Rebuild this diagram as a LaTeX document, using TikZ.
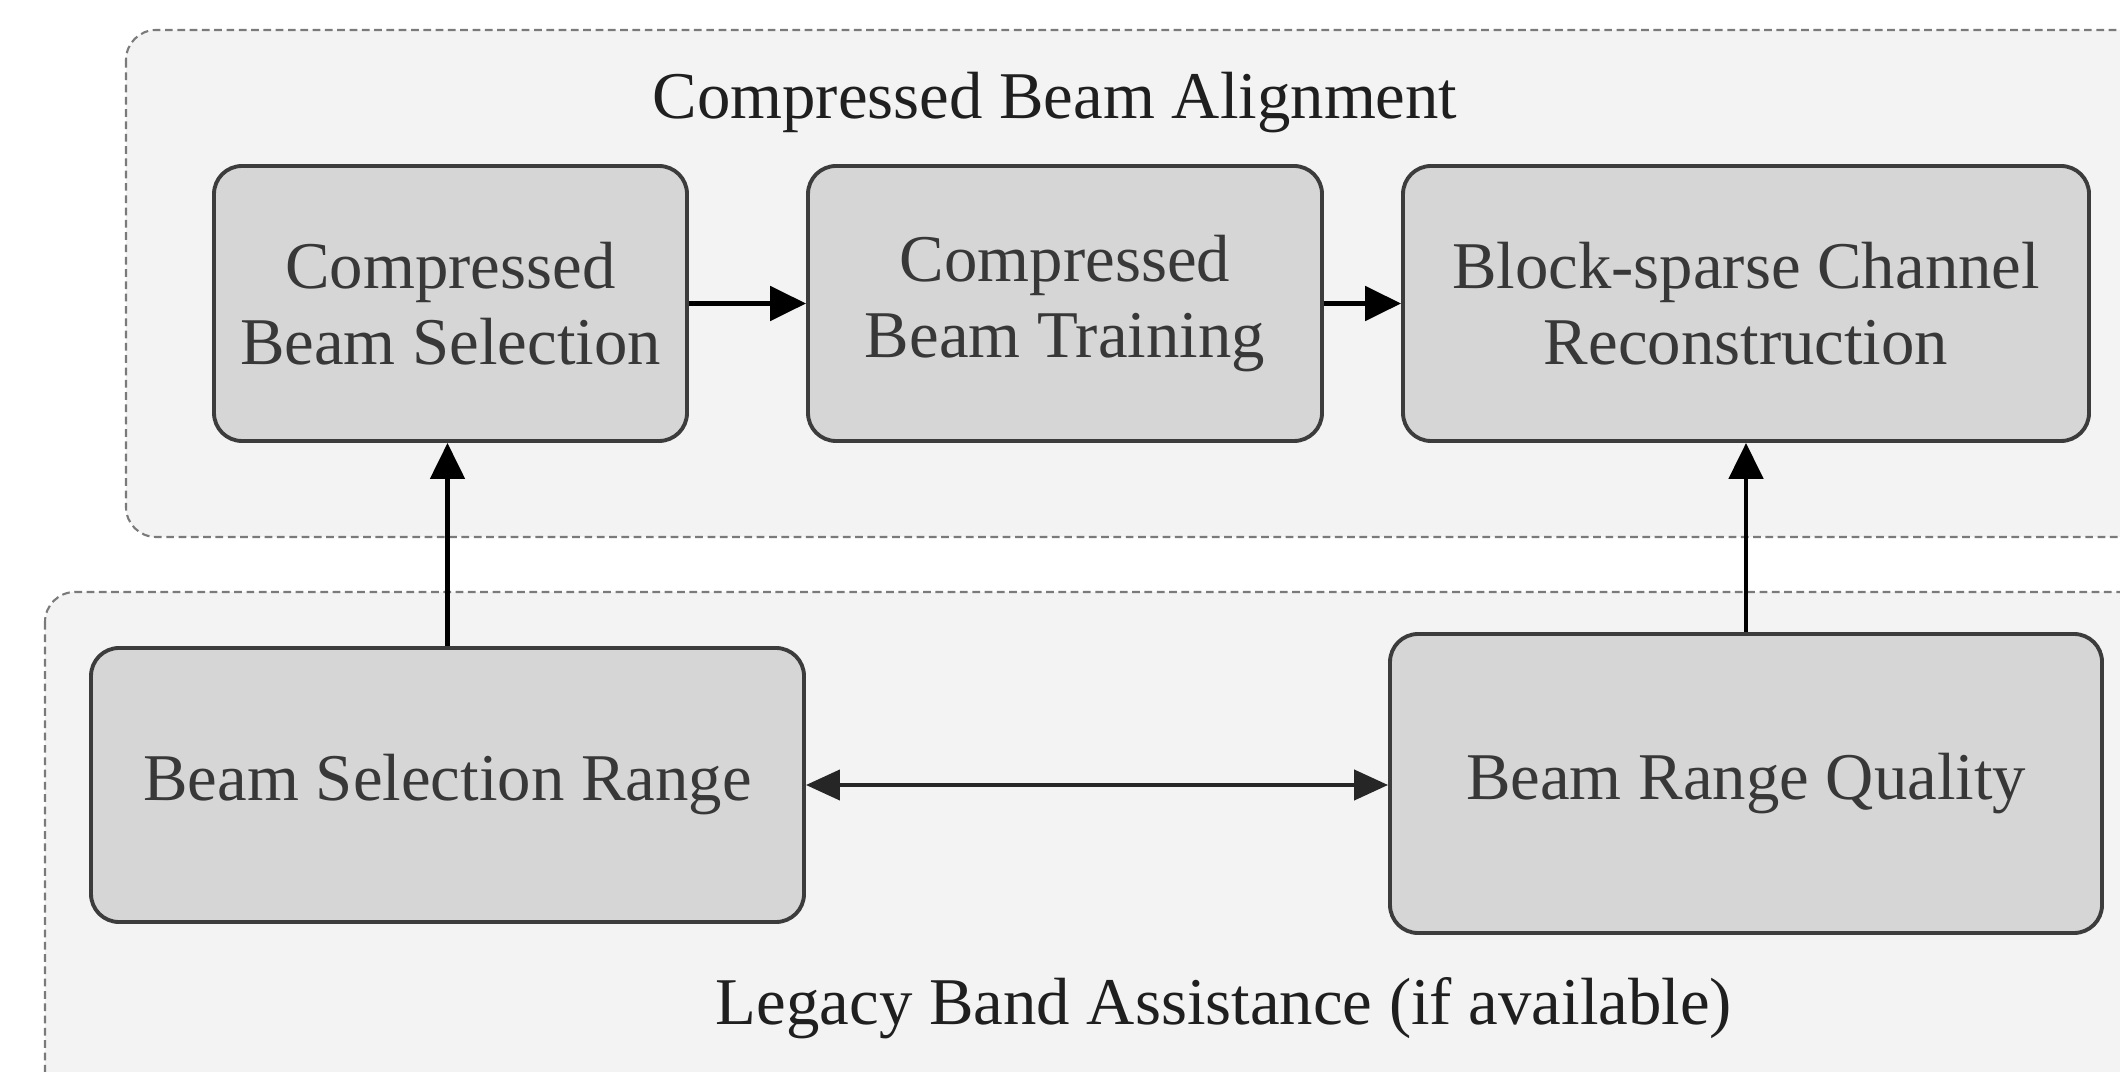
\documentclass[tikz,border=0pt]{standalone}
\usepackage{fontspec}
\setmainfont{Liberation Serif}
\usetikzlibrary{arrows.meta}
\definecolor{groupfill}{HTML}{F3F3F3}
\definecolor{groupline}{HTML}{7A7A7A}
\definecolor{boxfill}{HTML}{D6D6D6}
\definecolor{boxline}{HTML}{3C3C3C}
\definecolor{boxtext}{HTML}{383838}

\begin{document}
\begin{tikzpicture}[
            box/.style={draw=boxline, fill=boxfill, line width=1.1pt, rounded corners=0.28cm, align=center, text=boxtext, inner sep=0pt, font=\fontsize{19}{21.5}\selectfont},
            group/.style={draw=groupline, fill=groupfill, dash pattern=on 2.2pt off 1.3pt, line width=0.6pt, rounded corners=0.3cm},
            heading/.style={text=black!88, inner sep=0pt, font=\fontsize{19}{21}\selectfont},
            flow/.style={-{Triangle[length=0.36cm, width=0.34cm]}, line width=1.5pt},
            link/.style={{Triangle[length=0.34cm, width=0.3cm]}-{Triangle[length=0.34cm, width=0.3cm]}, line width=1.2pt, draw=black!85}
        ]
            \useasboundingbox (0,0) rectangle (21.2,-10.72);
            \clip (0,0) rectangle (21.2,-10.72);
            \draw[group] (1.26,-0.30) rectangle (21.8,-5.37);
            \draw[group] (0.45,-5.92) rectangle (21.8,-11.3);
            \node[heading] (cba) at (10.55,-1.03) {Compressed Beam Alignment};
            \node[heading] (lba) at (12.24,-10.08) {Legacy Band Assistance (if available)};
            \node[box, minimum width=4.73cm, minimum height=2.75cm] (sel) at (4.505,-3.035) {Compressed\\Beam Selection};
            \node[box, minimum width=5.14cm, minimum height=2.75cm] (train) at (10.65,-3.035) {Compressed\\Beam Training};
            \node[box, minimum width=6.86cm, minimum height=2.75cm] (rec) at (17.46,-3.035) {Block-sparse Channel\\Reconstruction};
            \node[box, minimum width=7.13cm, minimum height=2.74cm] (range) at (4.475,-7.85) {\raisebox{-0.06cm}{Beam Selection Range}};
            \node[box, minimum width=7.12cm, minimum height=2.99cm] (qual) at (17.46,-7.835) {\raisebox{-0.06cm}{Beam Range Quality}};
            \draw[flow] (sel) -- (train);
            \draw[flow] (train) -- (rec);
            \draw[flow, line width=1.4pt] (range.north) -- (range.north |- sel.south);
            \draw[flow, line width=1.4pt] (qual.north) -- (qual.north |- rec.south);
            \draw[link] (range.east) -- (range.east -| qual.west);
        \end{tikzpicture}
\end{document}
